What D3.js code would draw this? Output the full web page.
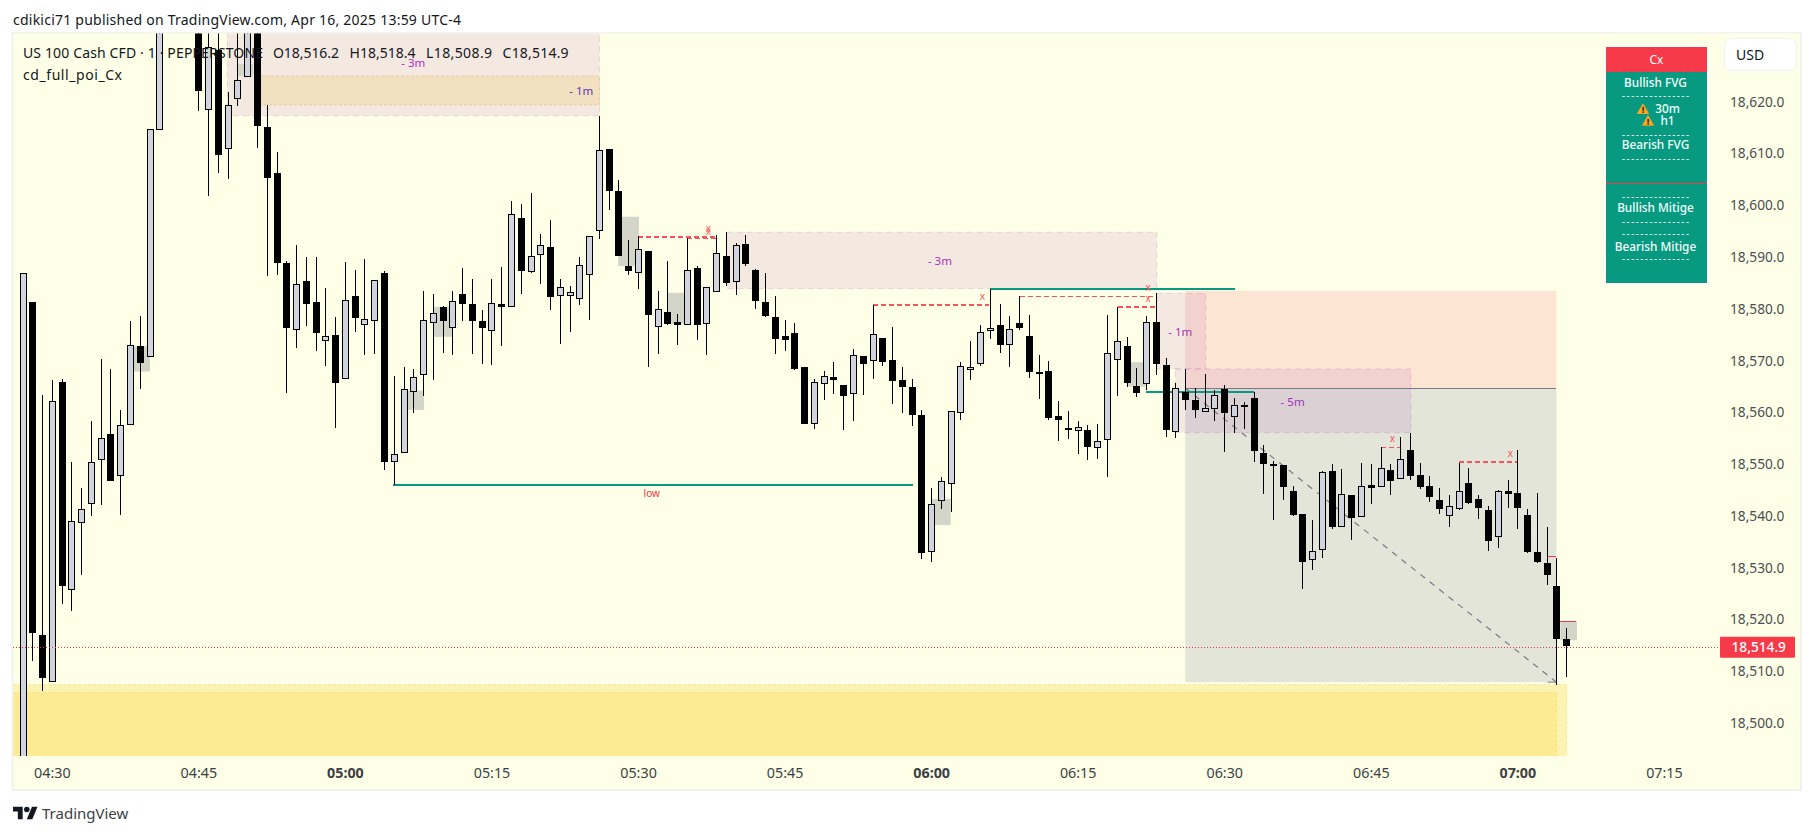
<![CDATA[<!DOCTYPE html>
<html><head><meta charset="utf-8"><title>US 100 Cash CFD</title>
<script src="https://cdnjs.cloudflare.com/ajax/libs/d3/7.8.5/d3.min.js"></script>
<style>html,body{margin:0;padding:0;background:#fff;overflow:hidden}svg{display:block}text{font-family:"Noto Sans",sans-serif}</style>
</head><body><svg id="c" width="1814" height="835"></svg>
<script>
const opens=[18480,18581.3,18517.0,18508.2,18565.8,18525.9,18538.8,18542.4,18550.9,18555.8,
18547.9,18557.7,18572.8,18570.8,18614.7,18650,18655,18658,18644,18618.7,
18630,18611.0,18620.7,18624.9,18645,18615.1,18606.2,18588.9,18576.2,18585.3,
18581.3,18573.9,18574.9,18566.8,18582.4,18577.2,18577.7,18586.9,18550.5,18552.3,
18564.1,18567.4,18577.6,18580.4,18576.4,18582.8,18580.9,18577.6,18575.9,18581.0,
18580.5,18597.5,18587.4,18590.5,18591.9,18582.6,18582.7,18582.0,18586.6,18595.2,
18610.9,18602.8,18588.3,18587.0,18591.2,18576.6,18579.4,18577.5,18577.2,18587.8,
18577.2,18583.4,18590.2,18585.3,18592.5,18587.5,18581.3,18578.4,18574.8,18575.3,
18568.8,18557.9,18565.6,18566.8,18565.3,18563.7,18570.9,18570.1,18574.3,18570.2,
18566.2,18564.9,18559.5,18533.3,18543.1,18546.3,18560.0,18568.3,18569.5,18576.0,
18576.8,18573.3,18577.2,18574.8,18567.9,18568.0,18559.3,18556.9,18556.5,18556.6,
18553.2,18554.8,18570.2,18572.8,18565.1,18565.6,18577.5,18569.2,18556.3,18563.9,
18562.4,18560.2,18560.7,18564.5,18559.2,18561.4,18562.7,18552.2,18550.1,18549.8,
18544.8,18540.4,18531.6,18533.6,18548.7,18538.1,18544.0,18539.9,18546.0,18545.7,
18548.9,18547.4,18552.7,18547.9,18545.8,18543.1,18540.2,18541.6,18546.3,18543.2,
18541.1,18536.2,18544.8,18544.4,18540.1,18533.0,18530.9,18526.5,18516.2];
const highs=[18587.0,18581.3,18563.4,18566.3,18566.5,18550.4,18545.4,18558.3,18570.3,18568.4,
18560.5,18577.7,18578.6,18614.7,18650,18660,18662,18660,18650,18640,
18640,18621.8,18645,18650,18650,18619.3,18610.3,18589.2,18592.3,18590.0,
18590.0,18584.0,18578.4,18589.1,18587.5,18589.6,18585.5,18587.3,18567.0,18568.7,
18568.4,18583.4,18582.9,18580.6,18583.5,18587.9,18585.8,18579.8,18585.8,18588.1,
18600.8,18600.3,18602.4,18594.5,18597.2,18585.7,18584.4,18590.0,18594.0,18617.3,
18610.9,18604.9,18593.3,18594.0,18591.2,18583.4,18589.2,18579.1,18593.6,18588.3,
18584.2,18594.3,18594.8,18592.7,18594.3,18587.7,18586.9,18582.5,18577.8,18577.2,
18568.8,18566.5,18568.0,18569.7,18565.3,18572.3,18570.9,18580.8,18574.3,18576.5,
18568.7,18566.5,18560.5,18545.4,18547.5,18560.2,18569.7,18573.8,18576.8,18583.8,
18580.9,18578.6,18582.4,18578.8,18571.1,18569.9,18562.2,18560.3,18558.3,18557.6,
18557.8,18578.8,18580.4,18574.6,18568.6,18578.6,18583.0,18570.5,18565.6,18568.4,
18564.7,18567.4,18564.3,18565.3,18562.7,18562.0,18564.0,18553.8,18550.6,18549.8,
18545.8,18540.4,18539.2,18548.7,18550.0,18549.1,18544.0,18550.2,18550.0,18553.3,
18550.0,18555.3,18556.1,18550.2,18547.7,18545.4,18544.0,18550.3,18549.3,18544.0,
18541.9,18545.0,18547.0,18552.7,18541.3,18544.4,18537.9,18531.8,18518.4];
const lows=[18470,18512.0,18506.1,18508.2,18522.9,18521.7,18528.5,18540.0,18542.2,18546.8,
18540.2,18557.7,18564.6,18570.8,18614.7,18645,18648,18640,18618.2,18601.9,
18606.3,18605.0,18619.1,18624.9,18611.1,18586.4,18586.5,18563.8,18572.4,18576.7,
18571.9,18569.0,18556.9,18566.8,18575.6,18571.0,18571.3,18548.9,18546.0,18552.3,
18559.9,18563.2,18566.3,18571.5,18571.0,18577.7,18571.3,18569.4,18569.2,18572.9,
18580.5,18582.9,18586.9,18584.9,18579.8,18573.3,18575.5,18580.8,18577.9,18593.5,
18599.1,18590.3,18586.5,18583.9,18568.8,18571.3,18576.9,18573.1,18577.2,18574.0,
18571.0,18583.4,18584.5,18582.7,18588.3,18580.0,18578.5,18571.3,18571.9,18568.1,
18557.8,18556.8,18562.4,18563.5,18556.6,18558.3,18563.4,18566.5,18569.0,18561.6,
18559.9,18557.4,18531.7,18531.2,18541.4,18540.8,18558.5,18566.3,18569.0,18574.2,
18571.5,18568.8,18576.0,18566.7,18562.6,18558.6,18554.5,18554.9,18552.0,18550.8,
18551.0,18547.6,18563.2,18565.0,18563.0,18564.3,18567.2,18555.3,18555.1,18560.5,
18559.0,18560.2,18558.3,18552.4,18556.1,18556.8,18550.5,18544.3,18539.2,18543.1,
18539.9,18525.9,18529.6,18531.9,18537.4,18538.1,18535.4,18539.9,18542.3,18545.7,
18544.0,18547.4,18547.0,18545.3,18542.6,18540.4,18537.9,18541.1,18542.3,18539.4,
18533.2,18533.9,18541.6,18537.5,18532.9,18531.0,18526.7,18507.4,18508.9];
const closes=[18587.0,18517.3,18508.6,18562.3,18526.3,18539.0,18541.3,18550.4,18555.0,18546.8,
18557.5,18573.0,18569.6,18614.7,18650,18655,18658,18644,18622.1,18630.6,
18609.8,18619.3,18624.2,18645,18615.2,18605.3,18588.9,18576.4,18584.9,18580.8,
18575.4,18574.7,18565.7,18581.8,18578.1,18578.1,18585.5,18550.3,18551.9,18564.5,
18566.8,18577.8,18579.3,18577.7,18581.5,18580.9,18577.7,18576.2,18581.2,18580.5,
18598.3,18587.2,18590.3,18592.3,18582.2,18584.2,18583.2,18588.4,18594.0,18610.6,
18602.8,18590.3,18587.3,18591.5,18578.9,18579.9,18577.1,18577.0,18587.6,18576.7,
18584.2,18590.7,18584.9,18592.3,18588.7,18581.6,18578.5,18574.2,18574.1,18568.4,
18557.8,18565.8,18567.0,18566.2,18563.2,18571.0,18569.4,18575.1,18569.6,18566.1,
18564.8,18559.4,18532.9,18542.4,18546.7,18560.2,18568.9,18568.7,18575.5,18576.4,
18572.9,18576.2,18576.2,18567.8,18567.7,18558.9,18558.5,18556.6,18557.1,18553.3,
18554.4,18571.4,18573.7,18565.7,18563.8,18577.4,18569.4,18556.6,18564.7,18562.3,
18560.5,18560.8,18563.3,18559.8,18561.4,18561.2,18552.4,18550.1,18549.9,18545.5,
18540.1,18531.2,18533.2,18548.4,18537.9,18544.2,18539.6,18545.7,18545.5,18549.2,
18546.8,18551.0,18547.6,18545.5,18543.7,18541.4,18541.9,18544.8,18542.5,18541.4,
18535.2,18544.8,18544.2,18541.5,18532.9,18531.0,18528.5,18516.3,18514.9];

const priceTicks=[18620,18610,18600,18590,18580,18570,18560,18550,18540,18530,18520,18510,18500];
const timeTickBars=[3,18,33,48,63,78,93,108,123,138,153,168];
const timeTickLabels=["04:30","04:45","05:00","05:15","05:30","05:45","06:00","06:15","06:30","06:45","07:00","07:15"];
const boldTimes=["05:00","06:00","07:00"];
const legendName="US 100 Cash CFD · 1 · PEPPERSTONE";
const ohlcLabels=["O18,516.2","H18,518.4","L18,508.9","C18,514.9"];
const indicatorName="cd_full_poi_Cx";
const titleText="cdikici71 published on TradingView.com, Apr 16, 2025 13:59 UTC-4";
const lastPriceLabel="18,514.9", lastPriceLine=18514.65;

// [startBar,endBar,topPrice,bottomPrice]
const bigTarget=[119,157,18583.5,18564.7];
const bigStop=[119,157,18564.7,18507.9];
const yellowOuter=[-3,158.05,18507.4,18470];
const yellowInner=[-3,157,18505.9,18470];
const purpleZones=[[20.97,59.05,18640,18617.3],[72.06,116.1,18594.8,18583.9],[116.1,121.1,18583.0,18568.4],[118,142.1,18568.4,18556.1]];
const orangeZones=[[24.4,59.05,18625.0,18619.4]];
const grayBoxes=[[11.37,13.05,18572.8,18567.9],[39.3,41.1,18564.2,18560.5],[42.06,44.0,18580.4,18574.6],[60.97,63.1,18597.8,18588.3],[21.95,23.6,18627.3,18625.0],[66.0,68.05,18583.1,18577.1],[93.0,95.0,18543.3,18538.25],[113.0,115.0,18569.7,18565.0],[157.4,159.1,18519.65,18516.0]];
// [startBar,endBar,price]
const tealLines=[[37.95,91.1,18546.0],[99,124.1,18583.85],[115,126.05,18564.0]];
const redDashed=[[63.04,71.0,18593.9],[68.05,71.0,18593.6],[87.0,98.9,18580.75],[102.05,116.05,18582.35],[112.1,116.0,18580.4],[139,141,18553.2],[147.05,153,18550.4]];
const redSolid=[[156.1,157,18532.2],[157.4,159.0,18519.65]];
const xMarks=[[70.2,18595.4],[70.2,18594.8],[98.25,18582.35],[115.2,18582.0],[115.2,18584.0],[140.2,18554.8],[152.3,18551.9]];
const zoneLabels=[[40.0,18627.5,"- 3m","#b02cc4"],[57.2,18622.1,"- 1m","#5b34b8"],[93.9,18589.3,"- 3m","#a431bb"],[118.5,18575.5,"- 1m","#a431bb"],[130,18562.1,"- 5m","#a431bb"]];
const lowLabel=[64.4,18544.4,"low"];
const diagonal=[[119,18564.7],[157,18507.9]];
const arrowHead=[[156.1,18507.9],[157,18507.9],[157,18509.5]];
const tableRows=[["Bullish FVG",83.3],["---------------",96],["30m",109],["h1",120.7],["---------------",134.3],["Bearish FVG",145.3],["---------------",159],["---------------",196.7],["Bullish Mitige",208.3],["---------------",221.7],["---------------",234],["Bearish Mitige",246.7],["---------------",258.7]];
const warnIcons=[[1643,109],[1648,120.7]];

const svg=d3.select("#c");
const x=d3.scaleLinear().domain([0,158]).range([22.5,1566.2]);
const y=d3.scaleLinear().domain([18620,18500]).range([101.8,723.04]);
const paneL=13.4,paneT=33.5,paneB=756,paneR=1720,frameR=1800,frameB=789;
const bg="#feffe7";
svg.append("rect").attr("x",11.5).attr("y",32).attr("width",frameR-11.5+2).attr("height",frameB-32+2).attr("fill","#f0f3ee");
svg.append("rect").attr("x",paneL).attr("y",paneT).attr("width",frameR-paneL).attr("height",frameB-paneT).attr("fill",bg);
const defs=svg.append("defs");
defs.append("clipPath").attr("id","pane").append("rect").attr("x",paneL).attr("y",paneT).attr("width",paneR-paneL).attr("height",paneB-paneT);
const g=svg.append("g").attr("clip-path","url(#pane)");
const box=(sel,data,fill,stroke,dash)=>sel.selectAll(null).data(data).join("rect")
 .attr("x",d=>x(d[0])).attr("width",d=>x(d[1])-x(d[0])).attr("y",d=>y(d[2])).attr("height",d=>y(d[3])-y(d[2]))
 .attr("fill",fill).attr("stroke",stroke||"none").attr("stroke-dasharray",dash||null).attr("stroke-width",1);
box(g,[bigTarget],"#fce6d3");
box(g,[bigStop],"#e3e5d8");
box(g,[yellowOuter],"rgba(250,214,60,0.30)","rgba(240,200,60,0.4)","3 2");
box(g,[yellowInner],"rgba(250,214,60,0.28)","rgba(240,200,60,0.3)","3 2");
box(g,purpleZones,"rgba(156,39,176,0.1)","rgba(156,39,176,0.16)","6 4");
box(g,orangeZones,"#f3e0c0","rgba(230,190,120,.6)","3 2");
box(g,grayBoxes,"#d3d5c8");
const hline=(data,stroke,w,dash)=>g.selectAll(null).data(data).join("line")
 .attr("x1",d=>x(d[0])).attr("x2",d=>x(d[1])).attr("y1",d=>y(d[2])).attr("y2",d=>y(d[2]))
 .attr("stroke",stroke).attr("stroke-width",w).attr("stroke-dasharray",dash||null).attr("shape-rendering","crispEdges");
g.append("line").attr("x1",x(bigTarget[0])).attr("x2",x(bigTarget[1])).attr("y1",y(bigTarget[3])).attr("y2",y(bigTarget[3])).attr("stroke","#787b86").attr("stroke-width",1).attr("shape-rendering","crispEdges");
g.append("path").attr("d",d3.line().x(d=>x(d[0])).y(d=>y(d[1]))(diagonal)).attr("fill","none").attr("stroke","#787b86").attr("stroke-dasharray","6 6").attr("stroke-width",1.2);
g.append("path").attr("d",d3.line().x(d=>x(d[0])).y(d=>y(d[1]))(arrowHead)).attr("fill","none").attr("stroke","#787b86").attr("stroke-width",1);
hline(tealLines,"#089981",2);
hline(redDashed,"#f7525f",1.5,"5 3");
hline(redSolid,"#f23645",1);
// price line
svg.append("line").attr("x1",paneL).attr("x2",paneR).attr("y1",y(lastPriceLine)).attr("y2",y(lastPriceLine)).attr("stroke","#f23645").attr("stroke-width",1).attr("stroke-dasharray","1 2").attr("shape-rendering","crispEdges");

// candles
const candles=opens.map((o,i)=>({i,o,h:highs[i],l:lows[i],c:closes[i]}));
const cg=g.append("g").attr("shape-rendering","crispEdges");
const cx=d=>Math.round(x(d.i));
cg.selectAll(".w").data(candles).join("rect").attr("class","w").attr("x",d=>cx(d)).attr("width",1).attr("y",d=>y(d.h)).attr("height",d=>y(d.l)-y(d.h)).attr("fill","#000");
cg.selectAll(".b").data(candles).join("rect").attr("class","b")
 .attr("x",d=>d.c>=d.o?cx(d)-2.5:cx(d)-3).attr("width",d=>d.c>=d.o?6:7)
 .attr("y",d=>{const t=y(Math.max(d.o,d.c));return d.c>=d.o?Math.round(t)+.5:Math.round(t)})
 .attr("height",d=>Math.max(2,Math.round(Math.abs(y(d.o)-y(d.c)))))
 .attr("fill",d=>d.c>=d.o?"#d1d4dc":"#000").attr("stroke",d=>d.c>=d.o?"#000":"none").attr("stroke-width",1);

// labels on chart
const lg=svg.append("g");
lg.selectAll(null).data(zoneLabels).join("text").attr("x",d=>x(d[0])).attr("y",d=>y(d[1])).attr("dy","0.35em").attr("text-anchor","middle").attr("font-size",11.5).attr("fill",d=>d[3]).text(d=>d[2]);
lg.append("text").attr("x",x(lowLabel[0])).attr("y",y(lowLabel[1])).attr("dy","0.35em").attr("text-anchor","middle").attr("font-size",10).attr("fill","#f23645").text(lowLabel[2]);
lg.selectAll(null).data(xMarks).join("text").attr("x",d=>x(d[0])).attr("y",d=>y(d[1])).attr("dy","0.3em").attr("text-anchor","middle").attr("font-size",10).attr("fill","#f7525f").text("x");

// axes
const axY=svg.append("g").attr("transform",`translate(${paneR+10},0)`).call(d3.axisRight(y).tickValues(priceTicks).tickSize(0).tickPadding(0).tickFormat(d3.format(",.1f")));
axY.select(".domain").remove();
axY.selectAll("text").attr("font-family","Noto Sans").attr("font-size",13.7).attr("fill","#4a4d55");
const axX=svg.append("g").attr("transform",`translate(0,${paneB})`).call(d3.axisBottom(x).tickValues(timeTickBars).tickSize(0).tickPadding(0).tickFormat((d,i)=>timeTickLabels[i]));
axX.select(".domain").remove();
axX.selectAll("text").attr("y",17).attr("dy","0.35em").attr("font-family","Noto Sans").attr("font-size",14.3).attr("fill","#3c3f46")
 .attr("font-weight",(d,i)=>boldTimes.includes(timeTickLabels[i])?700:400);

// price tag
svg.append("rect").attr("x",1720).attr("y",y(lastPriceLine)-10.5).attr("width",75).attr("height",21).attr("rx",1).attr("fill","#f73a4a");
svg.append("text").attr("x",1731.5).attr("y",y(lastPriceLine)).attr("dy","0.35em").attr("font-size",13.7).attr("font-weight",500).attr("fill","#fff").text(lastPriceLabel);

// USD
svg.append("rect").attr("x",1724.5).attr("y",38.5).attr("width",72).attr("height",32).attr("rx",6).attr("fill","#fff").attr("stroke","#f0f3ee");
svg.append("text").attr("x",1736).attr("y",55).attr("dy","0.35em").attr("font-size",14).attr("fill","#131722").text("USD");

// table
svg.append("rect").attr("x",1604.5).attr("y",45.5).attr("width",104).attr("height",239).attr("fill","#fff");
svg.append("rect").attr("x",1606).attr("y",47).attr("width",101).attr("height",25).attr("fill","#f73a4a");
svg.append("rect").attr("x",1606).attr("y",72).attr("width",101).attr("height",211).attr("fill","#089981");
svg.append("rect").attr("x",1606).attr("y",183).attr("width",101).attr("height",1).attr("fill","#f23645");
svg.append("text").attr("x",1656.5).attr("y",59.5).attr("dy","0.35em").attr("text-anchor","middle").attr("font-size",12).attr("fill","#fff").text("Cx");
svg.selectAll(null).data(tableRows).join("text").attr("x",d=>d[0]==="30m"||d[0]==="h1"?1667.5:1655.5).attr("y",d=>d[1]).attr("dy","0.35em").attr("text-anchor","middle").attr("font-size",d=>d[0].startsWith("-")?9.5:11.8).attr("font-weight",500).attr("fill","#f2fffb")
 .each(function(d){if(d[0].startsWith("-"))d3.select(this).attr("textLength",67).attr("lengthAdjust","spacing")}).text(d=>d[0]);
const wg=svg.selectAll(null).data(warnIcons).join("g").attr("transform",d=>`translate(${d[0]},${d[1]})`);
wg.append("path").attr("d","M0,-5 L5.5,4.5 L-5.5,4.5 Z").attr("fill","#f6a623").attr("stroke","#f6a623").attr("stroke-linejoin","round");
wg.append("text").attr("y",4.2).attr("text-anchor","middle").attr("font-size",9).attr("font-weight",700).attr("fill","#222").text("!");

// title & legend
svg.append("text").attr("x",13).attr("y",20).attr("dy","0.35em").attr("font-size",14).attr("fill","#131722").attr("textLength",448).attr("lengthAdjust","spacing").text(titleText);
svg.append("text").attr("x",23).attr("y",53).attr("dy","0.35em").attr("font-size",14).attr("fill","#131722").attr("textLength",240).attr("lengthAdjust","spacing").text(legendName);
const ohlcX=d3.scaleLinear().domain([0,3]).range([273,502.6]);
svg.selectAll(null).data(ohlcLabels).join("text").attr("x",(d,i)=>ohlcX(i)).attr("y",53).attr("dy","0.35em").attr("font-size",14).attr("fill","#131722").attr("textLength",66).attr("lengthAdjust","spacing").text(d=>d);
svg.append("text").attr("x",23).attr("y",74.7).attr("dy","0.35em").attr("font-size",14).attr("fill","#131722").attr("textLength",99).attr("lengthAdjust","spacing").text(indicatorName);

// footer
const logo=svg.append("g").attr("transform","translate(13,804) scale(0.69)").attr("fill","#131722");
logo.append("path").attr("d","M14 22H7V11H0V4h14v18zM28 22h-8l7.5-18h8L28 22z");
logo.append("circle").attr("cx",20).attr("cy",8).attr("r",4);
svg.append("text").attr("x",42).attr("y",814).attr("dy","0.35em").attr("font-size",15).attr("fill","#3c3f46").text("TradingView");
</script></body></html>]]>
